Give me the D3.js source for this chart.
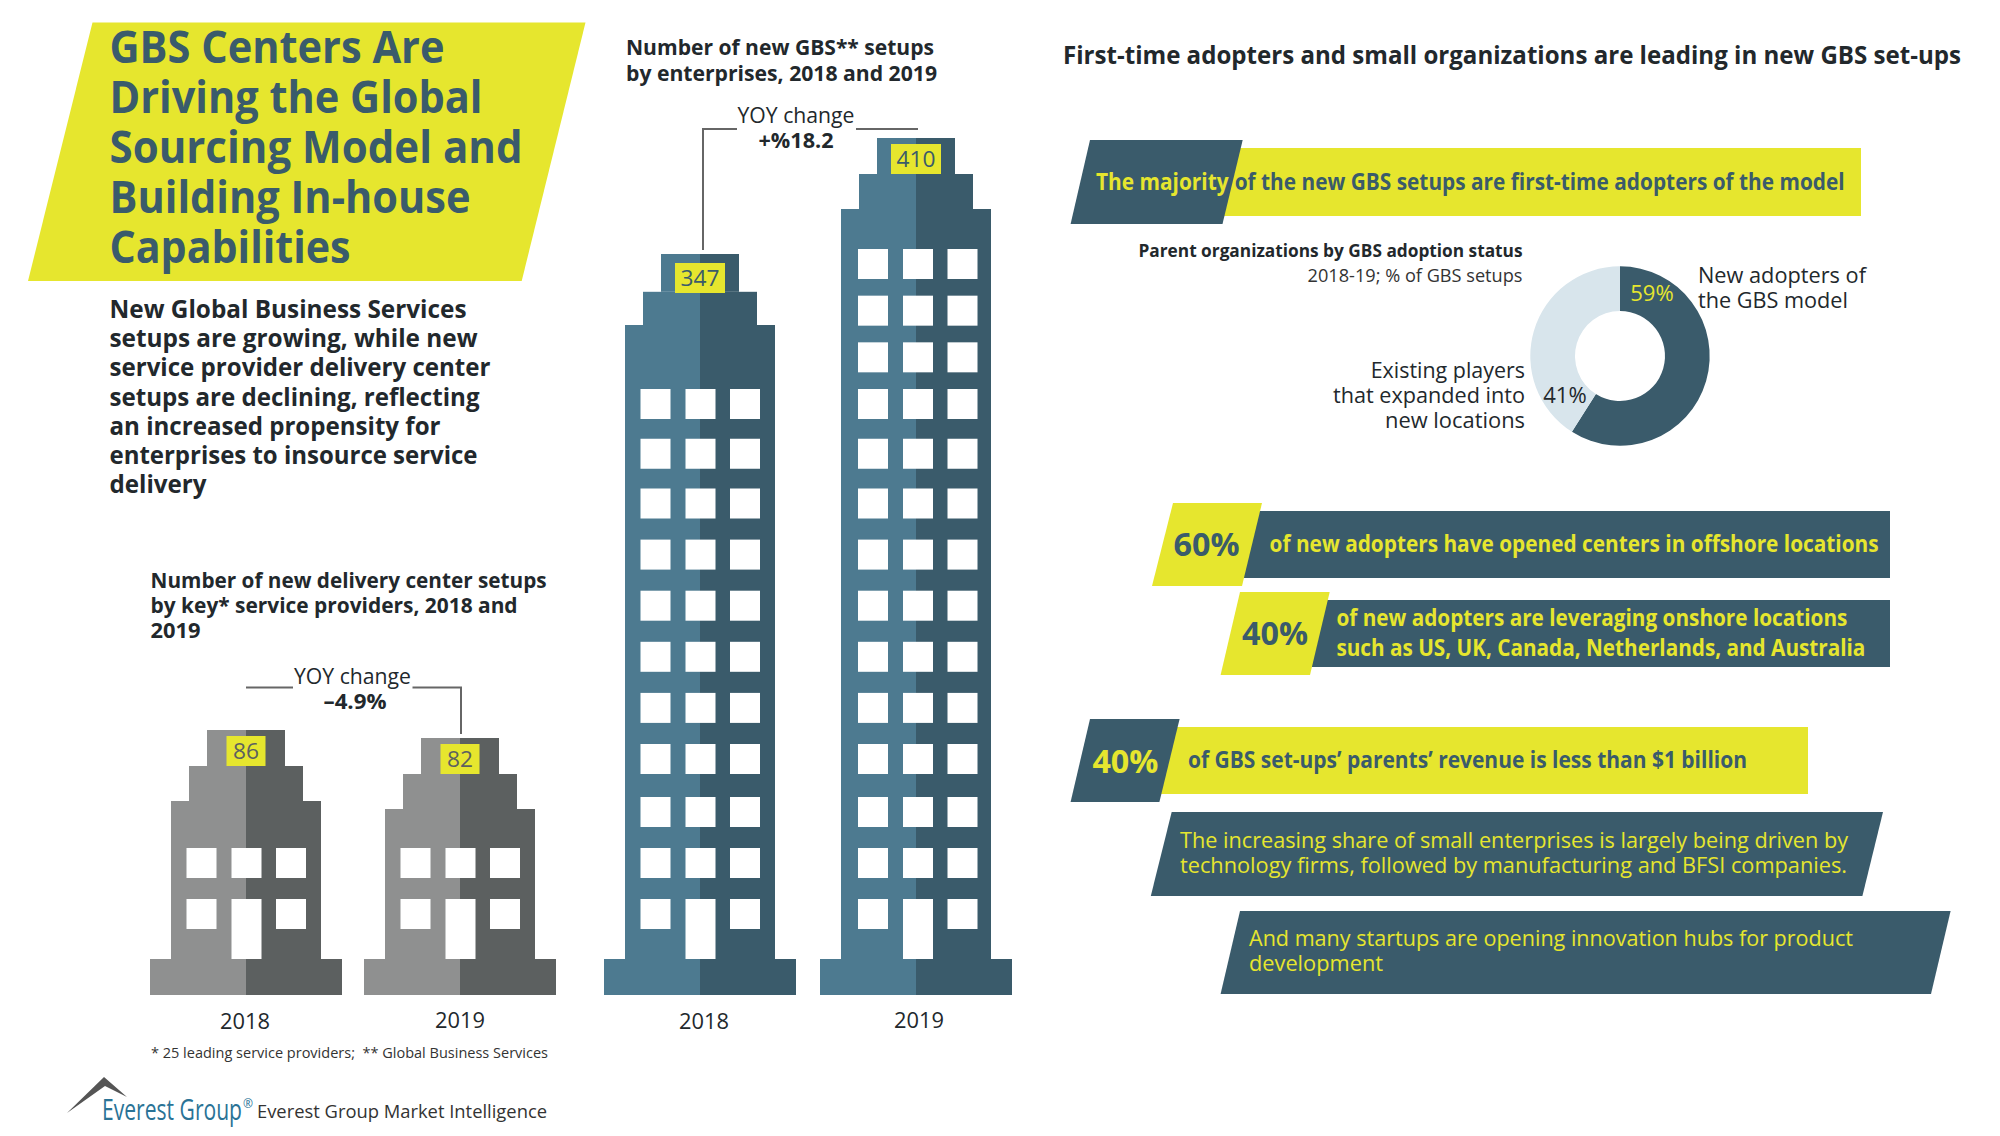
<!DOCTYPE html>
<html><head><meta charset="utf-8">
<script src="https://cdn.jsdelivr.net/npm/d3@7"></script>
<style>html,body{margin:0;padding:0;background:#fff}svg{display:block}text{font-family:"Open Sans","Noto Sans",sans-serif;white-space:pre}</style>
</head><body><svg id="c" width="2000" height="1136"></svg>
<script>
const years = ["2018","2019"];
const providerSetups = [86,82];
const gbsSetups = [347,410];
const providerFloors = [2,2];
const gbsFloors = [11,14];
const adoptionLabels = ["New adopters","Existing players"];
const adoptionShare = [59,41];

const YELLOW="#e6e62e", DARK="#3a5b6b", BLUE="#4d7a90", GREY="#8f9090", DGREY="#5c6060", INK="#22282c", PALE="#d8e5ec";
const svg=d3.select("#c");

function label(x,y,s,o={}){
  const t=svg.append("text").attr("x",x).attr("y",y).text(s)
    .attr("font-size",o.size||23).attr("font-weight",o.weight||400).attr("fill",o.fill||INK)
    .attr("text-anchor",o.anchor||"start");
  if(o.width){t.attr("textLength",o.width).attr("lengthAdjust","spacingAndGlyphs");}
  return t;
}
function poly(pts,fill){svg.append("polygon").attr("points",pts.map(p=>p.join(",")).join(" ")).attr("fill",fill);}
function rect(x0,y0,x1,y1,fill){svg.append("rect").attr("x",x0).attr("y",y0).attr("width",x1-x0).attr("height",y1-y0).attr("fill",fill);}
function lines(x,y,dy,rows,o){rows.forEach((r,i)=>label(x,y+i*dy,r[0],Object.assign({},o,{width:r[1]})));}

// ---- headline
poly([[92.5,22.5],[585.5,22.5],[521.7,281],[28,281]],YELLOW);
lines(109.5,63,50,[["GBS Centers Are",335],["Driving the Global",373],["Sourcing Model and",413],["Building In-house",361],["Capabilities",241]],{size:44,weight:700,fill:DARK});
lines(109.5,318,29.2,[["New Global Business Services",357],["setups are growing, while new",368],["service provider delivery center",381],["setups are declining, reflecting",370],["an increased propensity for",331],["enterprises to insource service",368],["delivery",97]],{size:25,weight:700});

// ---- chart titles
lines(150.6,588,25,[["Number of new delivery center setups",396],["by key* service providers, 2018 and",367],["2019",50]],{size:21.5,weight:700});
lines(626,55,26,[["Number of new GBS** setups",308],["by enterprises, 2018 and 2019",311]],{size:21.5,weight:700});

// ---- buildings
const heightY=d3.scaleLinear().domain([82,86,347,410]).range([738,730,254,138]);
const floorY=d3.scaleLinear().domain([0,2,3,8,10,13]).range([899,797,744,488.5,389,249]);
const providerX=d3.scalePoint().domain(years).range([246,460]);
const gbsX=d3.scalePoint().domain(years).range([700,916]);
const BASE_TOP=959, BASE_BOT=995;

function building(cx,value,floors,light,dark,winShift,boxShift){
  const top=heightY(value);
  const tiers=[[39,top,top+36+boxShift*0.6],[57,top+36+boxShift*0.6,top+71],[75,top+71,BASE_TOP],[96,BASE_TOP,BASE_BOT]];
  tiers.forEach(([hw,y0,y1])=>{rect(cx-hw,y0,cx,y1,light);rect(cx,y0,cx+hw,y1,dark);});
  d3.range(floors).forEach(f=>{
    const y=floorY(f);
    [-59.5,-14.5,30].forEach((dx,c)=>rect(cx+dx+winShift,y,cx+dx+winShift+30,(f===0&&c===1)?BASE_TOP:y+30,"#fff"));
  });
  const hw=value>100?25:19.5;
  rect(cx-hw,top+6+boxShift,cx+hw,top+36+boxShift,YELLOW);
  label(cx,top+29+boxShift,String(value),{size:22,anchor:"middle",fill:value>100?DARK:DGREY,width:value>100?39:26});
}
years.forEach((yr,i)=>{
  building(providerX(yr),providerSetups[i],providerFloors[i],GREY,DGREY,0,0);
  building(gbsX(yr),gbsSetups[i],gbsFloors[i],BLUE,DARK,i?1.5:0,i?0:3);
  label(providerX(yr)-(i?0:1),i?1028:1029,yr,{size:22,anchor:"middle",width:50});
  label(gbsX(yr)+(i?3:4),i?1028:1029,yr,{size:22,anchor:"middle",width:50});
});

// ---- YOY callouts
function conn(d){svg.append("path").attr("d",d).attr("fill","none").attr("stroke","#666").attr("stroke-width",2);}
conn("M246,687.6H293M412.5,687.6H461V734");
label(352.5,684,"YOY change",{size:22,anchor:"middle",width:117});
label(355,709,"–4.9%",{size:22,weight:700,anchor:"middle",width:63});
conn("M737,129H703V250M856,129H918");
label(796,123,"YOY change",{size:22,anchor:"middle",width:117});
label(796,148,"+%18.2",{size:22,weight:700,anchor:"middle",width:75});

// ---- footer
label(151,1058,"* 25 leading service providers;  ** Global Business Services",{size:14.5,width:397,fill:"#333"});
poly([[67,1113],[104,1077],[127,1097],[105,1086]],"#555");
label(102,1120,"Everest Group",{size:29,fill:"#2a7396",width:140});
label(243,1108,"®",{size:12,fill:"#2a7396"});
label(257,1118,"Everest Group Market Intelligence",{size:19,width:290,fill:"#333"});

// ---- right side
label(1063,64,"First-time adopters and small organizations are leading in new GBS set-ups",{size:25,weight:700,width:898});
rect(1223.7,148,1861,216,YELLOW);
poly([[1090,140],[1242.7,140],[1222.5,224],[1070.6,224]],DARK);
label(1096,190,"The majority",{size:23,weight:700,fill:YELLOW,width:132.6});
label(1234.7,190,"of the new GBS setups are first-time adopters of the model",{size:23,weight:700,fill:DARK,width:610});

label(1522.5,257,"Parent organizations by GBS adoption status",{size:17.5,weight:700,anchor:"end",width:384});
label(1522.5,282,"2018-19; % of GBS setups",{size:17.5,anchor:"end",width:215,fill:"#333"});

// donut
const pie=d3.pie().sort(null).value(d=>d)(adoptionShare);
const arc=d3.arc().innerRadius(45).outerRadius(89.7);
svg.append("g").attr("transform","translate(1620,356)").selectAll("path").data(pie).join("path")
  .attr("d",arc).attr("fill",(d,i)=>i?PALE:DARK).attr("aria-label",(d,i)=>adoptionLabels[i]);
label(1652,301,adoptionShare[0]+"%",{size:21,anchor:"middle",fill:YELLOW,width:43.5});
label(1565,403,adoptionShare[1]+"%",{size:21,anchor:"middle",width:43.5});
lines(1698,283,25,[["New adopters of",168],["the GBS model",150]],{size:22});
[["Existing players",154.3],["that expanded into",192],["new locations",140]].forEach((r,i)=>label(1525,378+25*i,r[0],{size:22,anchor:"end",width:r[1]}));

// stat rows
rect(1244,511,1890,578,DARK);
poly([[1173,503],[1262,503],[1242,586],[1152,586]],YELLOW);
label(1206.5,556,"60%",{size:33,weight:700,anchor:"middle",fill:DARK,width:66});
label(1269.6,552,"of new adopters have opened centers in offshore locations",{size:23,weight:700,fill:YELLOW,width:609});

rect(1312,600,1890,667,DARK);
poly([[1240,592],[1329.7,592],[1310,675],[1220.6,675]],YELLOW);
label(1275,645,"40%",{size:33,weight:700,anchor:"middle",fill:DARK,width:66});
label(1336.4,626,"of new adopters are leveraging onshore locations",{size:23,weight:700,fill:YELLOW,width:511});
label(1336.4,656,"such as US, UK, Canada, Netherlands, and Australia",{size:23,weight:700,fill:YELLOW,width:529});

rect(1161,727,1808,794,YELLOW);
poly([[1090,719],[1179.6,719],[1159.4,802],[1070.6,802]],DARK);
label(1125.4,773,"40%",{size:33,weight:700,anchor:"middle",fill:YELLOW,width:66});
label(1188,768,"of GBS set-ups’ parents’ revenue is less than $1 billion",{size:23,weight:700,fill:DARK,width:559});

poly([[1171.7,812],[1883,812],[1862.4,896],[1150.8,896]],DARK);
lines(1180,848,25,[["The increasing share of small enterprises is largely being driven by",668],["technology firms, followed by manufacturing and BFSI companies.",667]],{size:22,fill:YELLOW});
poly([[1240,911],[1950.6,911],[1931,994],[1220.6,994]],DARK);
lines(1249,946,24.5,[["And many startups are opening innovation hubs for product",604],["development",134]],{size:22,fill:YELLOW});
</script></body></html>
